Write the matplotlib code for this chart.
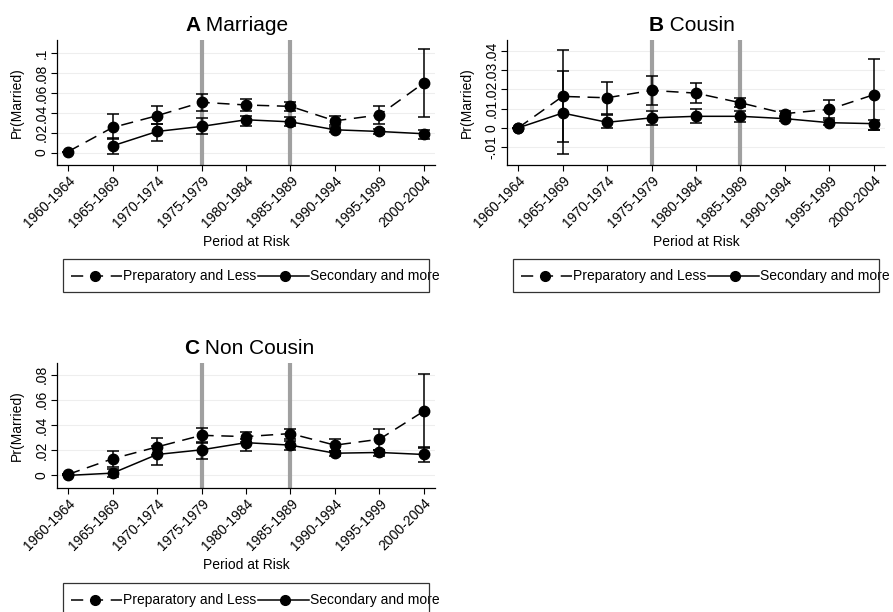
import matplotlib
matplotlib.use("Agg")
import matplotlib.pyplot as plt
import numpy as np
from matplotlib.patches import Rectangle
from matplotlib.lines import Line2D

plt.rcParams['font.family'] = ['Liberation Sans', 'DejaVu Sans']

periods = ["1960-1964", "1965-1969", "1970-1974", "1975-1979", "1980-1984",
           "1985-1989", "1990-1994", "1995-1999", "2000-2004"]
vlines_at = ["1975-1979", "1985-1989"]

# Panel A: Marriage
a_prep = [0.001, 0.0253, 0.0372, 0.0507, 0.048, 0.0466, 0.032, 0.038, 0.0703]
a_prep_lo = [0.001, 0.0135, 0.029, 0.042, 0.042, 0.0416, 0.0277, 0.0287, 0.0358]
a_prep_hi = [0.001, 0.0389, 0.0466, 0.0588, 0.054, 0.0514, 0.037, 0.0473, 0.104]
a_sec = [np.nan, 0.0068, 0.0213, 0.0264, 0.0331, 0.031, 0.023, 0.0213, 0.019]
a_sec_lo = [np.nan, -0.0014, 0.0118, 0.0186, 0.0264, 0.0264, 0.0203, 0.0186, 0.0142]
a_sec_hi = [np.nan, 0.0145, 0.029, 0.0345, 0.037, 0.0358, 0.0253, 0.024, 0.023]

# Panel B: Cousin
b_prep = [0.0, 0.0163, 0.0156, 0.0194, 0.018, 0.013, 0.0074, 0.0096, 0.0172]
b_prep_lo = [0.0, -0.0072, 0.0074, 0.0118, 0.013, 0.0106, 0.0057, 0.0053, -0.0012]
b_prep_hi = [0.0, 0.0402, 0.0239, 0.027, 0.023, 0.0156, 0.009, 0.0143, 0.0357]
b_sec = [0.0, 0.0077, 0.0029, 0.0052, 0.006, 0.006, 0.0048, 0.0027, 0.0022]
b_sec_lo = [0.0, -0.0136, -0.0003, 0.0014, 0.0026, 0.003, 0.0036, 0.0014, -0.001]
b_sec_hi = [0.0, 0.0294, 0.0065, 0.0088, 0.0096, 0.009, 0.006, 0.004, 0.004]

# Panel C: Non Cousin
c_prep = [0.0008, 0.0132, 0.0226, 0.0318, 0.0308, 0.0332, 0.024, 0.0287, 0.051]
c_prep_lo = [0.0008, 0.007, 0.0163, 0.026, 0.0268, 0.029, 0.0195, 0.0203, 0.0216]
c_prep_hi = [0.0008, 0.0197, 0.0295, 0.0379, 0.0347, 0.037, 0.029, 0.0366, 0.0808]
c_sec = [0.0, 0.0018, 0.0166, 0.0203, 0.026, 0.024, 0.0176, 0.0182, 0.0166]
c_sec_lo = [0.0, -0.001, 0.0082, 0.0134, 0.0195, 0.0203, 0.015, 0.0155, 0.011]
c_sec_hi = [0.0, 0.005, 0.023, 0.0268, 0.029, 0.0276, 0.0195, 0.0203, 0.0224]

a_ticks = [0, 0.02, 0.04, 0.06, 0.08, 0.1]
a_ticklabels = ["0", ".02", ".04", ".06", ".08", ".1"]
b_ticks = [-0.01, 0, 0.01, 0.02, 0.03, 0.04]
b_ticklabels = ["-.01", "0", ".01", ".02", ".03", ".04"]
c_ticks = [0, 0.02, 0.04, 0.06, 0.08]
c_ticklabels = ["0", ".02", ".04", ".06", ".08"]

legend_labels = ["Preparatory and Less", "Secondary and more"]

W, H = 893, 612
fig = plt.figure(figsize=(W / 100, H / 100), dpi=100)
renderer = fig.canvas.get_renderer()

DASH = (0, (8, 5))


def px_axes(x0, y0, x1, y1):
    return fig.add_axes([x0 / W, 1 - y1 / H, (x1 - x0) / W, (y1 - y0) / H])


def two_part_title(cx, ybase, letter, name, size=15):
    t1 = fig.text(0, 1 - ybase / H, letter, fontsize=size, fontweight='bold',
                  ha='left', va='baseline')
    t2 = fig.text(0, 1 - ybase / H, " " + name, fontsize=size, ha='left', va='baseline')
    w1 = t1.get_window_extent(renderer).width
    w2 = t2.get_window_extent(renderer).width
    x0 = cx - (w1 + w2) / 2
    t1.set_x(x0 / W)
    t2.set_x((x0 + w1) / W)


def panel(ax, prep, plo, phi, sec, slo, shi, ticks, ticklabels, ylim):
    x = np.arange(len(periods))
    for p in vlines_at:
        ax.axvline(periods.index(p), color='#a0a0a0', lw=3, zorder=1)
    for t in ticks:
        ax.axhline(t, color='#eeeeee', lw=0.8, zorder=0)
    prep = np.array(prep, float); plo = np.array(plo, float); phi = np.array(phi, float)
    sec = np.array(sec, float); slo = np.array(slo, float); shi = np.array(shi, float)
    ax.errorbar(x, prep, yerr=[prep - plo, phi - prep], fmt='none', ecolor='black',
                elinewidth=1.1, capsize=4, capthick=1.1, zorder=2)
    ax.errorbar(x, sec, yerr=[sec - slo, shi - sec], fmt='none', ecolor='black',
                elinewidth=1.1, capsize=4, capthick=1.1, zorder=2)
    ax.plot(x, prep, color='black', ls=DASH, lw=1.1, marker='o', ms=7.5, zorder=3)
    ax.plot(x, sec, color='black', ls='-', lw=1.1, marker='o', ms=7.5, zorder=3)
    ax.set_xlim(-0.25, len(periods) - 0.75)
    ax.set_ylim(*ylim)
    ax.set_xticks(x)
    ax.set_xticklabels(periods, rotation=45, ha='right', rotation_mode='anchor', fontsize=10)
    ax.set_yticks(ticks)
    ax.set_yticklabels(ticklabels, rotation=90, va='center', fontsize=10)
    ax.tick_params(axis='both', direction='out', length=4, width=0.8, color='black', pad=2)
    ax.set_ylabel("Pr(Married)", fontsize=10, labelpad=8)
    ax.set_xlabel("Period at Risk", fontsize=10, labelpad=3)
    for s in ['top', 'right']:
        ax.spines[s].set_visible(False)
    for s in ['left', 'bottom']:
        ax.spines[s].set_linewidth(0.9)


def legend_box(x0, y0, x1, y1, yc_px):
    fig.patches.append(Rectangle((x0 / W, 1 - y1 / H), (x1 - x0) / W, (y1 - y0) / H,
                                 transform=fig.transFigure, fill=False, ec='#333333',
                                 lw=0.9, zorder=5))
    yc = 1 - yc_px / H
    fig.lines.append(Line2D([(x0 + 8) / W, (x0 + 59) / W], [yc, yc], transform=fig.transFigure,
                            color='black', ls=(0, (8, 5)), lw=1.1))
    fig.lines.append(Line2D([(x0 + 32) / W], [yc], transform=fig.transFigure,
                            color='black', marker='o', ms=7, ls='none'))
    fig.text((x0 + 60) / W, yc, legend_labels[0], fontsize=10, va='center', ha='left')
    fig.lines.append(Line2D([(x0 + 195) / W, (x0 + 246) / W], [yc, yc], transform=fig.transFigure,
                            color='black', ls='-', lw=1.1))
    fig.lines.append(Line2D([(x0 + 222) / W], [yc], transform=fig.transFigure,
                            color='black', marker='o', ms=7, ls='none'))
    fig.text((x0 + 247) / W, yc, legend_labels[1], fontsize=10, va='center', ha='left')


axA = px_axes(57, 40, 435, 165)
panel(axA, a_prep, a_prep_lo, a_prep_hi, a_sec, a_sec_lo, a_sec_hi,
      a_ticks, a_ticklabels, (-0.0125, 0.1135))
two_part_title(237, 31, "A", "Marriage")
axB = px_axes(507, 40, 885, 165)
panel(axB, b_prep, b_prep_lo, b_prep_hi, b_sec, b_sec_lo, b_sec_hi,
      b_ticks, b_ticklabels, (-0.0192, 0.0455))
two_part_title(692, 31, "B", "Cousin")
axC = px_axes(57, 363, 435, 488)
panel(axC, c_prep, c_prep_lo, c_prep_hi, c_sec, c_sec_lo, c_sec_hi,
      c_ticks, c_ticklabels, (-0.01, 0.0892))
two_part_title(249, 354, "C", "Non Cousin")

legend_box(63, 259, 429, 292, 276)
legend_box(513, 259, 879, 292, 276)
legend_box(63, 583, 429, 616, 600)

fig.savefig("out.png", dpi=100, facecolor='white')
